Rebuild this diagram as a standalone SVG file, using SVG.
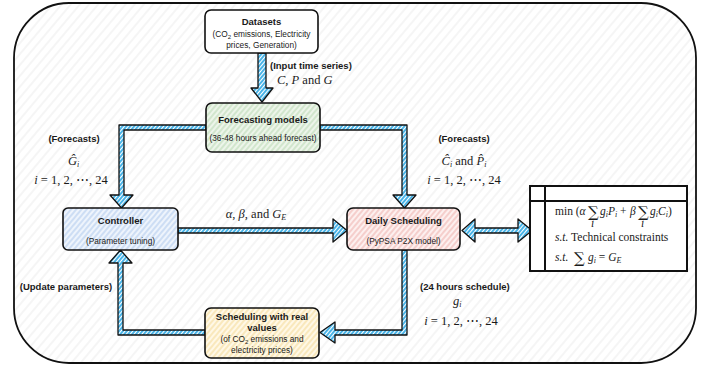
<svg xmlns="http://www.w3.org/2000/svg" width="713" height="368" viewBox="0 0 713 368">
<style>
.t{font-family:"Liberation Sans",Arial,sans-serif;fill:#1a1a1a;text-anchor:middle}
.b{font-weight:bold;font-size:9.5px}
.s{font-size:8.3px}
.m{font-family:"Liberation Serif","DejaVu Serif",serif;font-size:12.5px;fill:#1a1a1a}
.mt{font-family:"Liberation Serif","DejaVu Serif",serif;font-size:11.5px;fill:#1a1a1a}
.sum{font-family:"DejaVu Serif",serif;font-size:15px;fill:#1a1a1a}
.it{font-style:italic}
.node{stroke:#111;stroke-width:1.6}
.arr{fill:url(#hb);stroke:#111;stroke-width:1.3;stroke-linejoin:round}
</style>
<defs>
<pattern id="bg" patternUnits="userSpaceOnUse" width="7" height="7" patternTransform="rotate(40)">
<rect width="7" height="7" fill="#fff"/><line x1="1" y1="0" x2="1" y2="7" stroke="#ebebeb" stroke-width="1"/>
</pattern>
<pattern id="hb" patternUnits="userSpaceOnUse" width="3" height="3" patternTransform="rotate(40)">
<rect width="3" height="3" fill="#fff"/><line x1="1" y1="0" x2="1" y2="3" stroke="#1ba1e2" stroke-width="1.6"/>
</pattern>
<pattern id="hg" patternUnits="userSpaceOnUse" width="4" height="4" patternTransform="rotate(40)">
<rect width="4" height="4" fill="#edf5ea"/><line x1="1" y1="0" x2="1" y2="4" stroke="#c3dfbe" stroke-width="1.3"/>
</pattern>
<pattern id="hc" patternUnits="userSpaceOnUse" width="4" height="4" patternTransform="rotate(40)">
<rect width="4" height="4" fill="#eef4fc"/><line x1="1" y1="0" x2="1" y2="4" stroke="#bcd2f1" stroke-width="1.3"/>
</pattern>
<pattern id="hr" patternUnits="userSpaceOnUse" width="4" height="4" patternTransform="rotate(40)">
<rect width="4" height="4" fill="#fdf0ef"/><line x1="1" y1="0" x2="1" y2="4" stroke="#f2bdba" stroke-width="1.3"/>
</pattern>
<pattern id="hy" patternUnits="userSpaceOnUse" width="4" height="4" patternTransform="rotate(40)">
<rect width="4" height="4" fill="#fff8e6"/><line x1="1" y1="0" x2="1" y2="4" stroke="#f6e0a6" stroke-width="1.3"/>
</pattern>
</defs>
<rect width="713" height="368" fill="#fff"/>
<rect id="frame" x="14" y="3" width="682" height="360" rx="55" fill="url(#bg)" stroke="#111" stroke-width="1.8"/>

<g id="connectors">
<path class="arr" d="M258,53 L258,88 L251,88 L262,102 L273,88 L266,88 L266,53 Z"/>
<path class="arr" d="M206,125 L119,125 L119,195 L110,195 L121.5,208 L133,195 L124,195 L124,130 L206,130 Z"/>
<path class="arr" d="M320,125 L407,125 L407,195 L416,195 L404.5,208 L393,195 L402,195 L402,130 L320,130 Z"/>
<path class="arr" d="M178,228 L333,228 L333,219 L347,230.5 L333,242 L333,233 L178,233 Z"/>
<path class="arr" d="M462,230.5 L475,219 L475,228 L518,228 L518,219 L532,230.5 L518,242 L518,233 L475,233 L475,242 Z"/>
<path class="arr" d="M402,250 L402,330 L335,330 L335,322 L320,332.5 L335,343 L335,335 L407,335 L407,250 Z"/>
<path class="arr" d="M205,330 L123,330 L123,263 L132,263 L120.5,250 L109,263 L118,263 L118,335 L205,335 Z"/>
</g>

<g id="datasets">
<rect class="node" x="205" y="10" width="113" height="43" rx="6" fill="#fff"/>
<text class="t b" x="261.5" y="25">Datasets</text>
<text class="t s" x="261.5" y="37">(CO<tspan font-size="6" dy="2">2</tspan><tspan dy="-2"> emissions, Electricity</tspan></text>
<text class="t s" x="261.5" y="48">prices, Generation)</text>
</g>

<g id="forecasting">
<rect class="node" x="206" y="103" width="114" height="49" rx="6" fill="url(#hg)"/>
<text class="t b" x="263" y="123">Forecasting models</text>
<text class="t s" x="263" y="141">(36-48 hours ahead forecast)</text>
</g>

<g id="controller">
<rect class="node" x="63" y="208" width="115" height="42" rx="5" fill="url(#hc)"/>
<text class="t b" x="120.5" y="224">Controller</text>
<text class="t s" x="120.5" y="244">(Parameter tuning)</text>
</g>

<g id="daily">
<rect class="node" x="347" y="208" width="113" height="42" rx="6" fill="url(#hr)"/>
<text class="t b" x="403.5" y="224">Daily Scheduling</text>
<text class="t s" x="403.5" y="244">(PyPSA P2X model)</text>
</g>

<g id="realvalues">
<rect class="node" x="205" y="308" width="114" height="50" rx="6" fill="url(#hy)"/>
<text class="t b" x="262" y="320">Scheduling with real</text>
<text class="t b" x="262" y="331">values</text>
<text class="t s" x="262" y="342">(of CO<tspan font-size="6" dy="2">2</tspan><tspan dy="-2"> emissions and</tspan></text>
<text class="t s" x="262" y="353">electricity prices)</text>
</g>

<g id="optimization">
<rect x="530" y="186" width="157" height="85" fill="#fff" stroke="#111" stroke-width="2"/>
<line x1="530" y1="201" x2="687" y2="201" stroke="#111" stroke-width="2"/>
<line x1="545" y1="186" x2="545" y2="271" stroke="#111" stroke-width="2"/>
<text class="mt" x="555" y="215">min (<tspan class="it">α</tspan></text>
<text class="sum" x="588" y="217">∑</text>
<text class="mt it" x="591" y="227" font-size="7.5">i</text>
<text class="mt" x="600" y="215"><tspan class="it">g</tspan><tspan class="it" font-size="8" dy="2">i</tspan><tspan class="it" dy="-2">P</tspan><tspan class="it" font-size="8" dy="2">i</tspan></text>
<text class="mt" x="620" y="215">+</text>
<text class="mt it" x="630" y="215">β</text>
<text class="sum" x="638" y="217">∑</text>
<text class="mt it" x="641" y="227" font-size="7.5">i</text>
<text class="mt" x="650" y="215"><tspan class="it">g</tspan><tspan class="it" font-size="8" dy="2">i</tspan><tspan class="it" dy="-2">C</tspan><tspan class="it" font-size="8" dy="2">i</tspan><tspan dy="-2">)</tspan></text>
<text class="mt" x="555" y="241"><tspan class="it">s.t.</tspan> Technical constraints</text>
<text class="mt it" x="555" y="261">s.t.</text>
<text class="sum" x="574" y="263">∑</text>
<text class="mt" x="588" y="261"><tspan class="it">g</tspan><tspan class="it" font-size="8" dy="2">i</tspan><tspan dy="-2"> = </tspan><tspan class="it">G</tspan><tspan class="it" font-size="8" dy="2">E</tspan></text>
</g>

<g id="labels">
<text class="t b" x="270" y="69" style="text-anchor:start">(Input time series)</text>
<text class="m" x="277" y="84"><tspan class="it">C</tspan>, <tspan class="it">P</tspan> and <tspan class="it">G</tspan></text>

<text class="t b" x="74" y="142">(Forecasts)</text>
<text class="m" x="68" y="165"><tspan class="it">Ĝ</tspan><tspan class="it" font-size="8" dy="2">i</tspan></text>
<text class="m" x="71" y="184" text-anchor="middle"><tspan class="it">i</tspan> = 1, 2, ⋯, 24</text>

<text class="t b" x="464" y="142">(Forecasts)</text>
<text class="m" x="464" y="165" text-anchor="middle"><tspan class="it">Ĉ</tspan><tspan class="it" font-size="8" dy="2">i</tspan><tspan dy="-2"> and </tspan><tspan class="it">P̂</tspan><tspan class="it" font-size="8" dy="2">i</tspan></text>
<text class="m" x="464" y="184" text-anchor="middle"><tspan class="it">i</tspan> = 1, 2, ⋯, 24</text>

<text class="m" x="256" y="218" text-anchor="middle"><tspan class="it">α</tspan>, <tspan class="it">β</tspan>, and <tspan class="it">G</tspan><tspan class="it" font-size="8" dy="2">E</tspan></text>

<text class="t b" x="66" y="290">(Update parameters)</text>

<text class="t b" x="420" y="290" style="text-anchor:start">(24 hours schedule)</text>
<text class="m" x="453" y="305"><tspan class="it">g</tspan><tspan class="it" font-size="8" dy="2">i</tspan></text>
<text class="m" x="461" y="325" text-anchor="middle"><tspan class="it">i</tspan> = 1, 2, ⋯, 24</text>
</g>
</svg>
